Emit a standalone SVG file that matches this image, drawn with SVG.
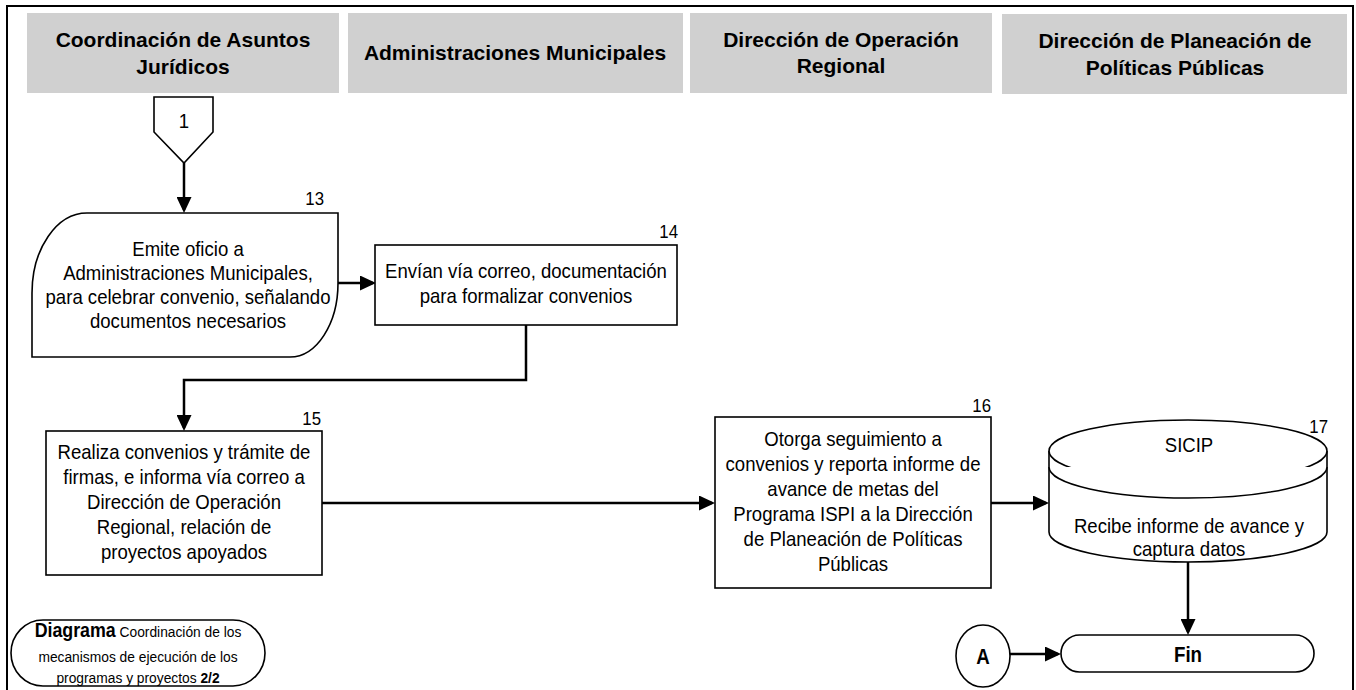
<svg xmlns="http://www.w3.org/2000/svg" width="1356" height="690" viewBox="0 0 1356 690">
  <defs>
    <style>
      .lane{fill:#d0d0d0}
      .hdr{font-family:"Liberation Sans",Arial,sans-serif;font-weight:bold;font-size:21px;text-anchor:middle;fill:#000}
      .shape{fill:#fff;stroke:#000;stroke-width:1.6}
      .txt{font-family:"Liberation Sans",Arial,sans-serif;font-size:21px;text-anchor:middle;fill:#000}
      .num{font-family:"Liberation Sans",Arial,sans-serif;font-size:19px;text-anchor:end;fill:#000}
      .term{font-family:"Liberation Sans",Arial,sans-serif;font-weight:bold;font-size:22px;text-anchor:middle;fill:#000}
      .small{font-family:"Liberation Sans",Arial,sans-serif;font-size:15.5px;text-anchor:middle;fill:#000}
      .conn{fill:none;stroke:#000;stroke-width:2.5}
    </style>
    <marker id="arrow" markerUnits="userSpaceOnUse" markerWidth="16" markerHeight="15" refX="13" refY="7.5" orient="auto">
      <path d="M0,0 L16,7.5 L0,15 Z" fill="#000"/>
    </marker>
  </defs>

  <rect width="1356" height="690" fill="#fff"/>
  <!-- page frame -->
  <path d="M7,690 V6 H1353 V690" fill="none" stroke="#000" stroke-width="2"/>

  <!-- swimlane headers -->
  <g id="lane-juridicos">
    <rect class="lane" x="27" y="13" width="312" height="80"/>
    <text class="hdr" x="183" y="47">Coordinación de Asuntos</text>
    <text class="hdr" x="183" y="74">Jurídicos</text>
  </g>
  <g id="lane-municipales">
    <rect class="lane" x="348" y="13" width="335" height="80"/>
    <text class="hdr" x="515" y="60">Administraciones Municipales</text>
  </g>
  <g id="lane-operacion">
    <rect class="lane" x="690" y="13" width="302" height="80"/>
    <text class="hdr" x="841" y="47">Dirección de Operación</text>
    <text class="hdr" x="841" y="73">Regional</text>
  </g>
  <g id="lane-planeacion">
    <rect class="lane" x="1002" y="14" width="345" height="80"/>
    <text class="hdr" x="1175" y="48">Dirección de Planeación de</text>
    <text class="hdr" x="1175" y="75">Políticas Públicas</text>
  </g>

  <!-- connectors -->
  <g id="connectors">
    <path class="conn" d="M184,163 V210" marker-end="url(#arrow)"/>
    <path class="conn" d="M338,283 H373" marker-end="url(#arrow)"/>
    <path class="conn" d="M526,325 V380 H184 V428" marker-end="url(#arrow)"/>
    <path class="conn" d="M322,503 H712" marker-end="url(#arrow)"/>
    <path class="conn" d="M991,503 H1046" marker-end="url(#arrow)"/>
    <path class="conn" d="M1188,562 V632" marker-end="url(#arrow)"/>
    <path class="conn" d="M1010,654 H1058" marker-end="url(#arrow)"/>
  </g>

  <!-- off-page connector 1 -->
  <g id="node-conector-1">
    <path class="shape" d="M154,97 H213 V132 L184,163 L154,132 Z"/>
    <g transform="translate(184,0) scale(0.885,1)">
      <text class="txt" x="0" y="128">1</text>
    </g>
  </g>

  <!-- step 13 -->
  <g id="node-13">
    <path class="shape" d="M32,357 V293 A55,80 0 0 1 87,213 H338 V283 A48,74 0 0 1 290,357 Z"/>
    <g transform="translate(324,0) scale(0.885,1)">
      <text class="num" x="0" y="205">13</text>
    </g>
    <g transform="translate(188,0) scale(0.885,1)">
      <text class="txt" x="0" y="256">Emite oficio a</text>
      <text class="txt" x="0" y="280">Administraciones Municipales,</text>
      <text class="txt" x="0" y="304">para celebrar convenio, señalando</text>
      <text class="txt" x="0" y="328">documentos necesarios</text>
    </g>
  </g>

  <!-- step 14 -->
  <g id="node-14">
    <rect class="shape" x="375" y="245" width="302" height="80"/>
    <g transform="translate(678,0) scale(0.885,1)">
      <text class="num" x="0" y="238">14</text>
    </g>
    <g transform="translate(526,0) scale(0.885,1)">
      <text class="txt" x="0" y="278">Envían vía correo, documentación</text>
      <text class="txt" x="0" y="303">para formalizar convenios</text>
    </g>
  </g>

  <!-- step 15 -->
  <g id="node-15">
    <rect class="shape" x="46" y="431" width="276" height="144"/>
    <g transform="translate(321,0) scale(0.885,1)">
      <text class="num" x="0" y="425">15</text>
    </g>
    <g transform="translate(184,0) scale(0.885,1)">
      <text class="txt" x="0" y="459">Realiza convenios y trámite de</text>
      <text class="txt" x="0" y="484">firmas, e informa vía correo a</text>
      <text class="txt" x="0" y="509">Dirección de Operación</text>
      <text class="txt" x="0" y="534">Regional, relación de</text>
      <text class="txt" x="0" y="559">proyectos apoyados</text>
    </g>
  </g>

  <!-- step 16 -->
  <g id="node-16">
    <rect class="shape" x="715" y="417" width="276" height="171"/>
    <g transform="translate(991,0) scale(0.885,1)">
      <text class="num" x="0" y="412">16</text>
    </g>
    <g transform="translate(853,0) scale(0.885,1)">
      <text class="txt" x="0" y="446">Otorga seguimiento a</text>
      <text class="txt" x="0" y="471">convenios y reporta informe de</text>
      <text class="txt" x="0" y="496">avance de metas del</text>
      <text class="txt" x="0" y="521">Programa ISPI a la Dirección</text>
      <text class="txt" x="0" y="546">de Planeación de Políticas</text>
      <text class="txt" x="0" y="571">Públicas</text>
    </g>
  </g>

  <!-- step 17: SICIP data store -->
  <g id="node-17">
    <path class="shape" d="M1049,451 A139,31 0 0 1 1327,451 V532 A139,30 0 0 1 1049,532 Z"/>
    <path class="shape" fill="none" d="M1049,451 A139,31 0 0 0 1327,451"/>
    <path class="shape" fill="none" d="M1049,467 A139,31 0 0 0 1327,467"/>
    <g transform="translate(1328,0) scale(0.885,1)">
      <text class="num" x="0" y="433">17</text>
    </g>
    <g transform="translate(1189,0) scale(0.885,1)">
      <text class="txt" x="0" y="452">SICIP</text>
      <text class="txt" x="0" y="533">Recibe informe de avance y</text>
      <text class="txt" x="0" y="556">captura datos</text>
    </g>
  </g>

  <!-- connector A -->
  <g id="node-A">
    <ellipse class="shape" cx="983" cy="656" rx="27" ry="31"/>
    <g transform="translate(983,0) scale(0.85,1)">
      <text class="term" x="0" y="664">A</text>
    </g>
  </g>

  <!-- end terminal -->
  <g id="node-fin">
    <rect class="shape" x="1061" y="635" width="253" height="37" rx="18.5" ry="18.5"/>
    <g transform="translate(1188,0) scale(0.85,1)">
      <text class="term" x="0" y="662">Fin</text>
    </g>
  </g>

  <!-- diagram caption -->
  <g id="caption">
    <rect class="shape" x="11" y="620" width="254" height="66" rx="32" ry="33"/>
    <g transform="translate(138,0) scale(0.89,1)">
      <text class="small" x="0" y="637"><tspan font-weight="bold" font-size="20px">Diagrama</tspan> Coordinación de los</text>
      <text class="small" x="0" y="662">mecanismos de ejecución de los</text>
      <text class="small" x="0" y="683">programas y proyectos <tspan font-weight="bold">2/2</tspan></text>
    </g>
  </g>
</svg>
